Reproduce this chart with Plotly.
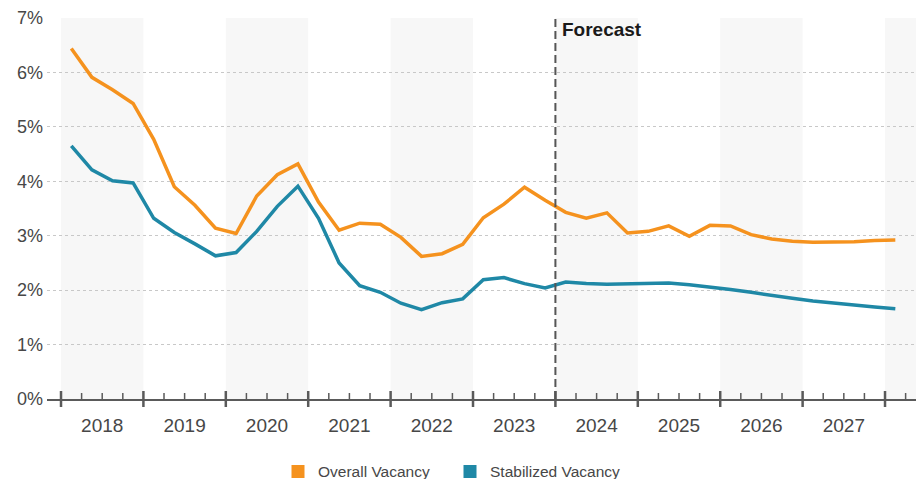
import plotly.graph_objects as go

# Quarterly vacancy rates (%), 2018 Q1 through 2028 Q1; forecast begins 2024 Q1
quarters = [f"{y} Q{q}" for y in range(2018, 2029) for q in range(1, 5)][:41]
overall_vacancy = [
    6.44, 5.91, 5.68, 5.43, 4.77, 3.90, 3.56, 3.14, 3.04, 3.73, 4.12, 4.32,
    3.62, 3.10, 3.23, 3.21, 2.97, 2.62, 2.67, 2.84, 3.33, 3.58, 3.89, 3.65,
    3.43, 3.32, 3.42, 3.05, 3.08, 3.18, 2.99, 3.19, 3.18, 3.02, 2.94, 2.90,
    2.88, 2.88, 2.89, 2.91, 2.92,
]
stabilized_vacancy = [
    4.65, 4.21, 4.01, 3.97, 3.32, 3.06, 2.85, 2.63, 2.69, 3.08, 3.54, 3.91,
    3.32, 2.50, 2.08, 1.96, 1.76, 1.64, 1.77, 1.84, 2.19, 2.23, 2.12, 2.04,
    2.15, 2.12, 2.11, 2.12, 2.12, 2.13, 2.10, 2.06, 2.01, 1.96, 1.90, 1.85,
    1.80, 1.76, 1.72, 1.69, 1.66,
]
year_labels = [str(y) for y in range(2018, 2028)]
y_ticks = [0, 1, 2, 3, 4, 5, 6, 7]
forecast_year = 2024

ORANGE = "#F5921E"
TEAL = "#1F88A6"
AXIS = "#5a5a5a"
TEXT = "#474747"
FONT = "Arial, Liberation Sans, sans-serif"


def quarter_pos(label):
    """Centre of a quarter on a continuous year scale."""
    y, q = label.split(" Q")
    return int(y) + (int(q) - 0.5) / 4


x = [quarter_pos(q) for q in quarters]

fig = go.Figure()
fig.add_trace(go.Scatter(x=x, y=overall_vacancy, mode="lines", showlegend=False,
                         line=dict(color=ORANGE, width=3.5), hoverinfo="skip"))
fig.add_trace(go.Scatter(x=x, y=stabilized_vacancy, mode="lines", showlegend=False,
                         line=dict(color=TEAL, width=3.5), hoverinfo="skip"))
# square swatches for the legend
for name, col in [("Overall Vacancy", ORANGE), ("Stabilized Vacancy", TEAL)]:
    fig.add_trace(go.Scatter(x=[None], y=[None], mode="markers", name=name,
                             marker=dict(symbol="square", size=13, color=col)))

shapes = []
first_year = int(year_labels[0])
last_year = int(year_labels[-1]) + 1
plot_h = 381.0

# alternating year bands
for yr in range(first_year, last_year + 1, 2):
    shapes.append(dict(type="rect", xref="x", yref="paper", x0=yr, x1=yr + 1,
                       y0=0, y1=1, fillcolor="#f7f7f7", line_width=0, layer="below"))

# year tick marks crossing the axis, quarter ticks above it
for yr in range(first_year, last_year + 1):
    shapes.append(dict(type="line", xref="x", yref="paper", x0=yr, x1=yr,
                       y0=-8 / plot_h, y1=8 / plot_h,
                       line=dict(color=AXIS, width=2.5), layer="above"))
    for k in (1, 2, 3):
        xq = yr + k / 4
        if xq > 2028.3:
            continue
        shapes.append(dict(type="line", xref="x", yref="paper", x0=xq, x1=xq,
                           y0=0, y1=6 / plot_h,
                           line=dict(color=AXIS, width=1.5), layer="above"))

# forecast divider
shapes.append(dict(type="line", xref="x", yref="paper", x0=forecast_year,
                   x1=forecast_year, y0=0, y1=1,
                   line=dict(color="#555555", width=2, dash="8px,4px"), layer="above"))

fig.update_layout(
    width=916, height=479,
    margin=dict(l=47, r=0, t=18, b=80),
    paper_bgcolor="white", plot_bgcolor="white",
    font=dict(family=FONT, color=TEXT),
    shapes=shapes,
    annotations=[dict(text="<b>Forecast</b>", xref="x", yref="paper",
                      x=forecast_year, y=1, xanchor="left", yanchor="top",
                      xshift=5, yshift=1, showarrow=False,
                      font=dict(size=19, color="#1a1a1a", family=FONT))],
    legend=dict(orientation="h", xref="container", yref="container",
                x=278 / 916, y=0.015, xanchor="left", yanchor="middle",
                entrywidth=127, entrywidthmode="pixels",
                font=dict(size=15.5, color=TEXT, family=FONT)),
    showlegend=True,
)
fig.update_xaxes(
    range=[2017.830, 2028.376],
    tickvals=[int(y) + 0.5 for y in year_labels], ticktext=year_labels,
    ticks="outside", ticklen=8, tickcolor="rgba(0,0,0,0)",
    tickfont=dict(size=19, color=TEXT, family=FONT),
    showgrid=False, zeroline=False,
    showline=True, linecolor=AXIS, linewidth=2,
)
fig.update_yaxes(
    range=[0, 7], tickvals=y_ticks, ticktext=[f"{v}%" for v in y_ticks],
    tickfont=dict(size=18, color=TEXT, family=FONT),
    ticks="", ticklabelstandoff=3,
    showgrid=True, gridcolor="#c8c8c8", griddash="dot", gridwidth=1,
    zeroline=False, showline=False,
)

fig.write_html("out.html")
